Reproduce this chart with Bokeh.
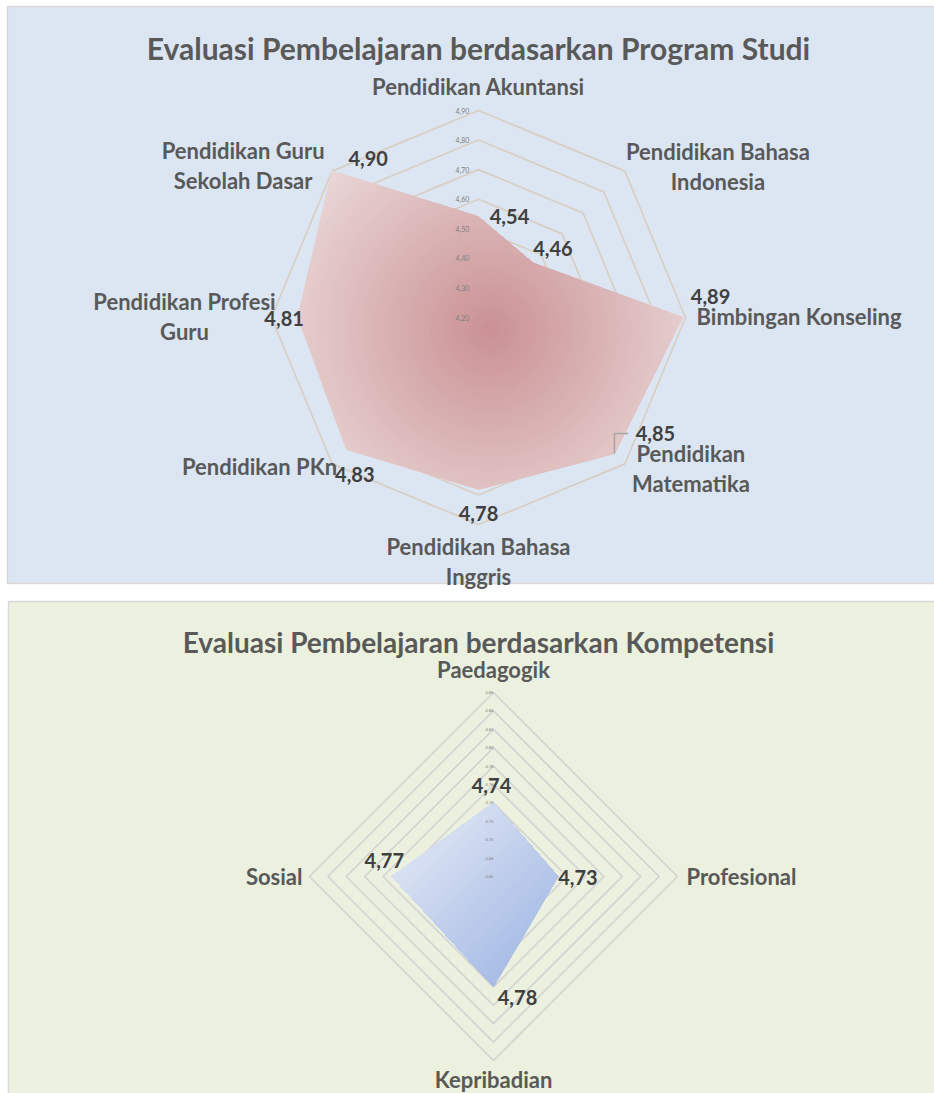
import numpy as np
from bokeh.plotting import figure
from bokeh.models import Range1d
from bokeh.core.properties import value
from bokeh.embed import file_html
from bokeh.resources import INLINE

# ---------------- data ----------------
prodi_categories = ["Pendidikan Akuntansi", "Pendidikan Bahasa Indonesia", "Bimbingan Konseling",
                    "Pendidikan Matematika", "Pendidikan Bahasa Inggris", "Pendidikan PKn",
                    "Pendidikan Profesi Guru", "Pendidikan Guru Sekolah Dasar"]
prodi_display = ["Pendidikan Akuntansi", "Pendidikan Bahasa\nIndonesia", "Bimbingan Konseling",
                 "Pendidikan\nMatematika", "Pendidikan Bahasa\nInggris", "Pendidikan PKn",
                 "Pendidikan Profesi\nGuru", "Pendidikan Guru\nSekolah Dasar"]
prodi_values = [4.54, 4.46, 4.89, 4.85, 4.78, 4.83, 4.81, 4.90]
prodi_ticks = [4.20, 4.30, 4.40, 4.50, 4.60, 4.70, 4.80, 4.90]

komp_categories = ["Paedagogik", "Profesional", "Kepribadian", "Sosial"]
komp_values = [4.74, 4.73, 4.78, 4.77]
komp_ticks = [4.66, 4.68, 4.70, 4.72, 4.74, 4.76, 4.78, 4.80, 4.82, 4.84, 4.86]

title_top = "Evaluasi Pembelajaran berdasarkan Program Studi"
title_bottom = "Evaluasi Pembelajaran berdasarkan Kompetensi"


def fmt(v):
    return f"{v:.2f}".replace(".", ",")


# ---------------- layout / style ----------------
W, H = 934, 1093
FONT = value("Lato")
TITLE_COLOR = "#595959"
CAT_COLOR = "#595959"
LBL_COLOR = "#404040"

TOP = dict(cx=478, cy=317, R=207, title_y=47, title_size="30px", line_sp=30,
           ring_color="#d8cfc4", bg="#dce6f2", panel=(7, 960, 6, 583),
           tick_x=462, tick_size="7px",
           cat_off=[(0, -24, "center"), (93, -5, "center"), (11, -1, "left"), (66, 5, "center"),
                    (0, 37, "center"), (5, 3, "right"), (-87, -1, "center"), (-89, -6, "center")],
           lbl_off=[(31, 0), (20, -15), (28, -21), (41, -20), (0, 24), (8, 25), (-14, 1), (36, -13)],
           inner="#ca9193", outer="#ecdcdc")
BOT = dict(cx=493, cy=876, R=184, title_y=641, title_size="28px", line_sp=30,
           ring_color="#d3d3d3", bg="#ebf1de", panel=(8, 960, 601, 1200),
           tick_x=489, tick_size="4px",
           cat_off=[(0, -23, "center"), (9, 0, "left"), (0, 19, "center"), (-7, 0, "right")],
           lbl_off=[(-2, -17), (20, 1), (24, 11), (-8, -16)],
           light="#d9e1f2", dark="#a7bce6")

p = figure(width=W, height=H, x_range=Range1d(0, W), y_range=Range1d(H, 0),
           x_axis_type=None, y_axis_type=None, output_backend="svg", toolbar_location=None,
           min_border=0, outline_line_color=None, background_fill_color="white",
           border_fill_color="white")


def radar_xy(cx, cy, R, vmin, vmax, vals):
    n = len(vals)
    ang = np.arange(n) * 2 * np.pi / n
    r = (np.asarray(vals, dtype=float) - vmin) / (vmax - vmin) * R
    return cx + r * np.sin(ang), cy - r * np.cos(ang)


def clip_half(poly, a, b, c):
    out = []
    n = len(poly)
    for i in range(n):
        P = poly[i]
        Q = poly[(i + 1) % n]
        fp = a * P[0] + b * P[1] - c
        fq = a * Q[0] + b * Q[1] - c
        if fp <= 0:
            out.append(P)
        if (fp < 0 < fq) or (fq < 0 < fp):
            t = fp / (fp - fq)
            out.append((P[0] + t * (Q[0] - P[0]), P[1] + t * (Q[1] - P[1])))
    return out


def hex2rgb(h):
    h = h.lstrip("#")
    return np.array([int(h[i:i + 2], 16) for i in (0, 2, 4)], dtype=float)


def mix(c1, c2, t):
    a, b = hex2rgb(c1), hex2rgb(c2)
    c = a + (b - a) * t
    return "#%02x%02x%02x" % tuple(int(round(v)) for v in c)


def text_block(x, y, txt, size, color, align, line_sp):
    lines = txt.split("\n")
    k = len(lines)
    xs = [x] * k
    ys = [y + (j - (k - 1) / 2) * line_sp for j in range(k)]
    p.text(x=xs, y=ys, text=lines, text_font=FONT, text_font_style="bold",
           text_font_size=size, text_color=color, text_align=align, text_baseline="middle")


def draw_radar(L, cats, vals, ticks, title, fill_mode):
    l, r, t, b = L["panel"]
    p.quad(left=[l], right=[r], top=[t], bottom=[b], fill_color=L["bg"],
           line_color="#d9d9d9", line_width=1.5)
    vmin, vmax = ticks[0], ticks[-1]
    cx, cy, R = L["cx"], L["cy"], L["R"]
    n = len(vals)
    # rings
    rxs, rys = [], []
    for tv in ticks[1:]:
        xs, ys = radar_xy(cx, cy, R, vmin, vmax, [tv] * n)
        rxs.append(list(xs))
        rys.append(list(ys))
    p.patches(rxs, rys, fill_color=None, line_color=L["ring_color"], line_width=1.7)
    # data polygon with simulated gradient
    px, py = radar_xy(cx, cy, R, vmin, vmax, vals)
    poly = list(zip(px, py))
    layers_x, layers_y, cols = [], [], []
    N = 48
    if fill_mode == "radial":
        gx = (px.min() + px.max()) / 2
        gy = (py.min() + py.max()) / 2
        rmax = max(np.hypot(px - gx, py - gy)) * 1.08
        M = 72
        for i in range(N, 0, -1):
            rr = rmax * i / N
            sub = poly
            for k in range(M):
                ph = 2 * np.pi * k / M
                a, bb = np.cos(ph), np.sin(ph)
                sub = clip_half(sub, a, bb, a * gx + bb * gy + rr)
                if not sub:
                    break
            if len(sub) >= 3:
                layers_x.append([q[0] for q in sub])
                layers_y.append([q[1] for q in sub])
                cols.append(mix(L["inner"], L["outer"], (i - 0.5) / N))
    else:
        s = (px + py) / np.sqrt(2)
        smin, smax = s.min(), s.max()
        for i in range(N, 0, -1):
            thr = smin + (smax - smin) * i / N
            sub = clip_half(poly, 1 / np.sqrt(2), 1 / np.sqrt(2), thr)
            if len(sub) >= 3:
                layers_x.append([q[0] for q in sub])
                layers_y.append([q[1] for q in sub])
                cols.append(mix(L["light"], L["dark"], (i - 0.5) / N))
    p.patches(layers_x, layers_y, fill_color=cols, line_color=cols, line_width=0.6)
    # tick labels
    tys = [cy - (tv - vmin) / (vmax - vmin) * R for tv in ticks]
    p.text(x=[L["tick_x"]] * len(ticks), y=tys, text=[fmt(tv) for tv in ticks],
           text_font=FONT, text_font_size=L["tick_size"], text_color="#7f7f7f",
           text_align="center", text_baseline="middle")
    # category labels
    ox, oy = radar_xy(cx, cy, R, vmin, vmax, [vmax] * n)
    for i, c in enumerate(cats):
        dx, dy, al = L["cat_off"][i]
        text_block(ox[i] + dx, oy[i] + dy, c, "22px", CAT_COLOR, al, L["line_sp"])
    # data labels
    for i, v in enumerate(vals):
        dx, dy = L["lbl_off"][i]
        text_block(px[i] + dx, py[i] + dy, fmt(v), "20px", LBL_COLOR, "center", 0)
    # title
    text_block(478, L["title_y"], title, L["title_size"], TITLE_COLOR, "center", 0)
    return px, py


px, py = draw_radar(TOP, prodi_display, prodi_values, prodi_ticks, title_top, "radial")
# leader line for the Matematika label
p.line(x=[px[3], px[3], px[3] + 14], y=[py[3], py[3] - 20, py[3] - 20],
       line_color="#a6a6a6", line_width=1.5)
draw_radar(BOT, komp_categories, komp_values, komp_ticks, title_bottom, "linear")

open("out.html", "w").write(file_html(p, INLINE))
